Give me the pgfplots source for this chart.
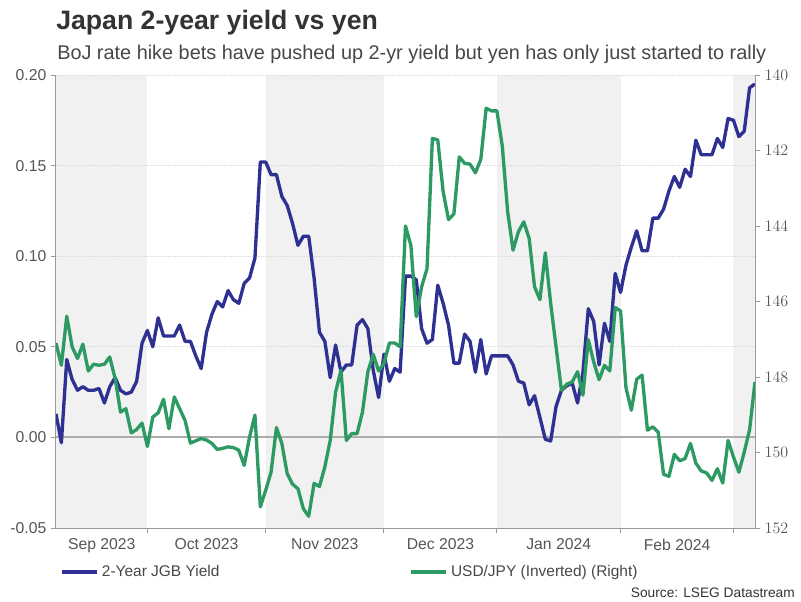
\documentclass[border=0pt]{standalone}
\usepackage{fontspec}
\setmainfont{Liberation Sans}
\usepackage{pgfplots}
\usepackage{pgfplotstable}
\pgfplotsset{compat=1.18}

\definecolor{jgb}{HTML}{2E3192}
\definecolor{fx}{HTML}{2E9A63}
\definecolor{band}{HTML}{F1F1F1}
\definecolor{axisgray}{HTML}{9A9A9A}
\definecolor{ticktxt}{HTML}{555555}
\definecolor{titletxt}{HTML}{333333}

% x = business-day index (0 = first day shown, Oct 1 = 17, Mar 1 = 126)
\pgfplotstableread{
x y
0 0.013
1 -0.003
2 0.043
3 0.032
4 0.026
5 0.028
6 0.026
7 0.026
8 0.027
9 0.019
10 0.028
11 0.033
12 0.026
13 0.024
14 0.025
15 0.031
16 0.052
17 0.059
18 0.050
19 0.066
20 0.056
21 0.056
22 0.056
23 0.062
24 0.053
25 0.053
26 0.045
27 0.038
28 0.058
29 0.068
30 0.075
31 0.072
32 0.081
33 0.076
34 0.074
35 0.085
36 0.088
37 0.099
38 0.152
39 0.152
40 0.145
41 0.145
42 0.133
43 0.128
44 0.118
45 0.106
46 0.111
47 0.111
48 0.088
49 0.058
50 0.053
51 0.033
52 0.051
53 0.036
54 0.040
55 0.040
56 0.062
57 0.065
58 0.060
59 0.037
60 0.022
61 0.046
62 0.031
63 0.038
64 0.036
65 0.089
66 0.089
67 0.087
68 0.060
69 0.052
70 0.054
71 0.084
72 0.074
73 0.062
74 0.041
75 0.041
76 0.057
77 0.053
78 0.036
79 0.054
80 0.035
81 0.045
82 0.045
83 0.045
84 0.045
85 0.040
86 0.031
87 0.030
88 0.018
89 0.023
90 0.011
91 -0.001
92 -0.002
93 0.017
94 0.026
95 0.0285
96 0.030
97 0.019
98 0.036
99 0.071
100 0.064
101 0.040
102 0.063
103 0.053
104 0.0905
105 0.080
106 0.095
107 0.105
108 0.114
109 0.103
110 0.103
111 0.121
112 0.121
113 0.126
114 0.136
115 0.144
116 0.138
117 0.148
118 0.144
119 0.164
120 0.156
121 0.156
122 0.156
123 0.165
124 0.160
125 0.176
126 0.175
127 0.166
128 0.169
129 0.193
130 0.195
}\jgbdata

\pgfplotstableread{
x y
0 147.10
1 147.69
2 146.39
3 147.20
4 147.51
5 147.13
6 147.84
7 147.66
8 147.69
9 147.66
10 147.47
11 148.04
12 148.93
13 148.84
14 149.48
15 149.39
16 149.22
17 149.84
18 149.06
19 148.95
20 148.59
21 149.37
22 148.53
23 148.84
24 149.15
25 149.75
26 149.69
27 149.63
28 149.67
29 149.76
30 149.92
31 149.89
32 149.85
33 149.87
34 149.94
35 150.34
36 149.59
37 149.01
38 151.44
39 151.00
40 150.52
41 149.34
42 149.76
43 150.56
44 150.84
45 150.96
46 151.49
47 151.69
48 150.82
49 150.90
50 150.38
51 149.68
52 148.40
53 147.82
54 149.68
55 149.50
56 149.50
57 148.93
58 147.86
59 147.40
60 147.84
61 147.64
62 147.10
63 147.10
64 147.20
65 144.00
66 144.51
67 146.40
68 145.61
69 145.13
70 141.68
71 141.72
72 143.09
73 143.83
74 143.68
75 142.17
76 142.34
77 142.36
78 142.59
79 142.24
80 140.88
81 140.95
82 140.95
83 141.88
84 143.62
85 144.64
86 144.15
87 143.89
88 144.33
89 145.61
90 145.95
91 144.71
92 146.05
93 147.20
94 148.35
95 148.19
96 148.13
97 147.86
98 148.48
99 147.01
100 147.60
101 148.07
102 147.69
103 147.84
104 146.16
105 146.25
106 148.28
107 148.88
108 148.06
109 147.95
110 149.41
111 149.32
112 149.46
113 150.58
114 150.63
115 150.05
116 150.22
117 150.16
118 149.76
119 150.28
120 150.49
121 150.54
122 150.74
123 150.43
124 150.81
125 149.68
126 150.12
127 150.52
128 149.99
129 149.39
130 148.13
}\fxdata

\pgfplotsset{
  chart/.style={
    at={(42pt,54.75pt)}, anchor=south west,
    scale only axis, width=524.25pt, height=339.75pt,
    xmin=0, xmax=130,
    tick align=outside, major tick length=3.75pt,
    tick style={axisgray, line width=0.75pt},
    axis line style={axisgray, line width=0.75pt},
    tick label style={font=\fontsize{11.8}{13}\selectfont, color=ticktxt},
    legend style={draw=none, fill=none, anchor=west,
      font=\fontsize{11.6}{13}\selectfont, text=titletxt!90},
    legend image code/.code={\draw[##1, line width=3pt] (0pt,0pt) -- (26.25pt,0pt);},
  },
}

\begin{document}
\begin{tikzpicture}[x=1pt,y=1pt]

% month shading, drawn first so the grid of the next axis lies on it
\begin{axis}[chart, hide axis, ymin=-0.05, ymax=0.20]
  \fill[band] (axis cs:0,-0.05) rectangle (axis cs:17,0.2);
  \fill[band] (axis cs:39,-0.05) rectangle (axis cs:61,0.2);
  \fill[band] (axis cs:82,-0.05) rectangle (axis cs:105,0.2);
  \fill[band] (axis cs:126,-0.05) rectangle (axis cs:130,0.2);
\end{axis}

\begin{axis}[chart,
    axis x line*=bottom, axis y line*=left,
    ymin=-0.05, ymax=0.20,
    ytick={-0.05,0,0.05,0.1,0.15,0.2},
    yticklabels={-0.05,0.00,0.05,0.10,0.15,0.20},
    ymajorgrids, major grid style={densely dotted, color=gray!30, line width=0.6pt},
    xtick={17,39,61,82,105,126}, xticklabels={},
    extra x ticks={8.5,28,50,71.5,93.5,115.5},
    extra x tick labels={Sep 2023,Oct 2023,Nov 2023,Dec 2023,Jan 2024,Feb 2024},
    extra x tick style={major tick length=0pt},
    xticklabel style={yshift=-4.5pt},
    legend style={at={(axis description cs:0,-0.0966)}},
  ]
  \draw[color=gray!65, line width=1.4pt] (axis cs:0,0) -- (axis cs:130,0);
  \addplot[jgb, line width=2.5pt, line join=round] table {\jgbdata};
  \addlegendentry{2-Year JGB Yield}
\end{axis}

\begin{axis}[chart,
    axis x line=none, axis y line*=right,
    ymin=140, ymax=152, y dir=reverse,
    ytick={140,142,144,146,148,150,152},
    legend style={at={(axis description cs:0.4994,-0.0966)}},
  ]
  \addplot[fx, line width=2.5pt, line join=round] table {\fxdata};
  \addlegendentry{USD/JPY (Inverted) (Right)}
\end{axis}

\node[anchor=base west, inner sep=0pt, font=\bfseries\fontsize{20}{22}\selectfont, color=titletxt]
  at (42,428.8) {Japan 2-year yield vs yen};
\node[anchor=base west, inner sep=0pt, font=\fontsize{14.9}{17}\selectfont, color=titletxt!90]
  at (42.75,405.75) {BoJ rate hike bets have pushed up 2-yr yield but yen has only just started to rally};
\node[anchor=base east, inner sep=0pt, font=\fontsize{10.3}{12}\selectfont, color=titletxt]
  at (596.25,3) {Source: LSEG Datastream};

\pgfresetboundingbox
\useasboundingbox (0,0) rectangle (600.75,450.75);
\end{tikzpicture}
\end{document}
